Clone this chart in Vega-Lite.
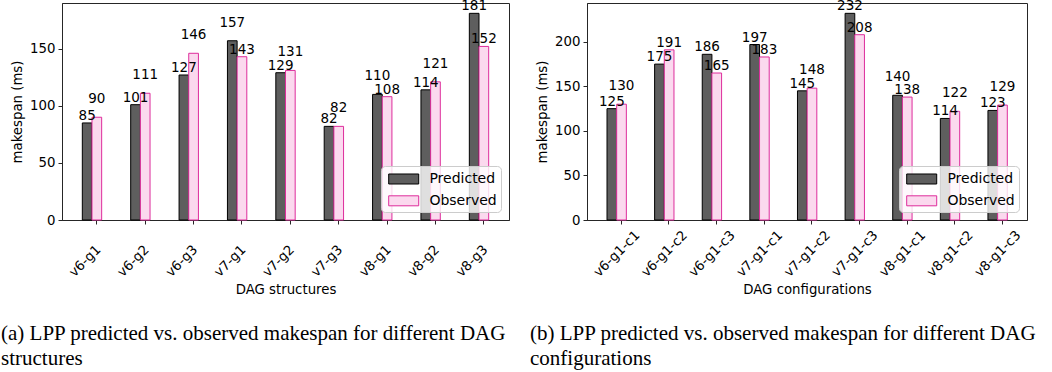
{
  "$schema": "https://vega.github.io/schema/vega-lite/v6.json",
  "padding": {"left": 0, "top": -2, "right": 0, "bottom": 0},
  "bounds": "flush",
  "spacing": 78,
  "datasets": {
    "a": [
      {"cat": "v6-g1", "series": "Predicted", "value": 85}, {"cat": "v6-g1", "series": "Observed", "value": 90},
      {"cat": "v6-g2", "series": "Predicted", "value": 101}, {"cat": "v6-g2", "series": "Observed", "value": 111},
      {"cat": "v6-g3", "series": "Predicted", "value": 127}, {"cat": "v6-g3", "series": "Observed", "value": 146},
      {"cat": "v7-g1", "series": "Predicted", "value": 157}, {"cat": "v7-g1", "series": "Observed", "value": 143},
      {"cat": "v7-g2", "series": "Predicted", "value": 129}, {"cat": "v7-g2", "series": "Observed", "value": 131},
      {"cat": "v7-g3", "series": "Predicted", "value": 82}, {"cat": "v7-g3", "series": "Observed", "value": 82},
      {"cat": "v8-g1", "series": "Predicted", "value": 110}, {"cat": "v8-g1", "series": "Observed", "value": 108},
      {"cat": "v8-g2", "series": "Predicted", "value": 114}, {"cat": "v8-g2", "series": "Observed", "value": 121},
      {"cat": "v8-g3", "series": "Predicted", "value": 181}, {"cat": "v8-g3", "series": "Observed", "value": 152}
    ],
    "b": [
      {"cat": "v6-g1-c1", "series": "Predicted", "value": 125}, {"cat": "v6-g1-c1", "series": "Observed", "value": 130},
      {"cat": "v6-g1-c2", "series": "Predicted", "value": 175}, {"cat": "v6-g1-c2", "series": "Observed", "value": 191},
      {"cat": "v6-g1-c3", "series": "Predicted", "value": 186}, {"cat": "v6-g1-c3", "series": "Observed", "value": 165},
      {"cat": "v7-g1-c1", "series": "Predicted", "value": 197}, {"cat": "v7-g1-c1", "series": "Observed", "value": 183},
      {"cat": "v7-g1-c2", "series": "Predicted", "value": 145}, {"cat": "v7-g1-c2", "series": "Observed", "value": 148},
      {"cat": "v7-g1-c3", "series": "Predicted", "value": 232}, {"cat": "v7-g1-c3", "series": "Observed", "value": 208},
      {"cat": "v8-g1-c1", "series": "Predicted", "value": 140}, {"cat": "v8-g1-c1", "series": "Observed", "value": 138},
      {"cat": "v8-g1-c2", "series": "Predicted", "value": 114}, {"cat": "v8-g1-c2", "series": "Observed", "value": 122},
      {"cat": "v8-g1-c3", "series": "Predicted", "value": 123}, {"cat": "v8-g1-c3", "series": "Observed", "value": 129}
    ]
  },
  "config": {
    "font": "DejaVu Sans",
    "view": {"stroke": "#262626", "strokeWidth": 1},
    "axis": {
      "labelFont": "DejaVu Sans", "labelFontSize": 13.3, "labelColor": "#000",
      "titleFont": "DejaVu Sans", "titleFontSize": 13.3, "titleFontWeight": "normal", "titleColor": "#000",
      "domainColor": "#262626", "tickColor": "#262626", "tickSize": 4, "grid": false
    },
    "legend": {
      "orient": "bottom-right", "offset": 8, "padding": 4,
      "fillColor": "rgba(255,255,255,0.8)", "strokeColor": "#cccccc", "cornerRadius": 4,
      "symbolType": "M-1.807,-0.602H1.807V0.602H-1.807Z", "symbolSize": 276, "symbolStrokeWidth": 1,
      "labelFont": "DejaVu Sans", "labelFontSize": 14, "labelColor": "#000",
      "labelOffset": 16.7, "rowPadding": 4.8, "symbolOffset": 9.7
    }
  },
  "resolve": {
    "scale": {"x": "independent", "y": "independent", "fill": "independent", "stroke": "independent"},
    "legend": {"fill": "independent", "stroke": "independent"}
  },
  "hconcat": [
    {
      "width": 447, "height": 217,
      "data": {"name": "a"},
      "title": {
        "text": ["(a) LPP predicted vs. observed makespan for different DAG", "structures"],
        "orient": "bottom", "anchor": "start", "frame": "group", "dx": -61, "offset": 27,
        "font": "Liberation Serif", "fontSize": 21, "fontWeight": "normal", "color": "#000", "lineHeight": 25
      },
      "encoding": {
        "x": {
          "field": "cat", "type": "nominal", "sort": null,
          "scale": {"domain": ["v6-g1", "v6-g2", "v6-g3", "v7-g1", "v7-g2", "v7-g3", "v8-g1", "v8-g2", "v8-g3"], "paddingInner": 0.6, "paddingOuter": 0.42},
          "axis": {"title": "DAG structures", "labelAngle": -45, "labelAlign": "left", "labelBaseline": "alphabetic", "labelOffset": -17.5, "labelPadding": 53, "bandPosition": 0.75, "titlePadding": 4, "labelOverlap": false}
        },
        "xOffset": {"field": "series", "type": "nominal", "scale": {"domain": ["Predicted", "Observed"]}},
        "y": {
          "field": "value", "type": "quantitative",
          "scale": {"domain": [0, 190.05], "nice": false},
          "axis": {"title": "makespan (ms)", "values": [0, 50, 100, 150], "labelPadding": 3, "titlePadding": 5}
        }
      },
      "layer": [
        {
          "mark": {"type": "bar", "strokeWidth": 1},
          "encoding": {
            "fill": {"field": "series", "type": "nominal", "scale": {"domain": ["Predicted", "Observed"], "range": ["#5e5e5e", "#fbd9ee"]}, "legend": {"title": null}},
            "stroke": {"field": "series", "type": "nominal", "scale": {"domain": ["Predicted", "Observed"], "range": ["#000000", "#de2d9c"]}, "legend": {"title": null}}
          }
        },
        {
          "transform": [
            {"joinaggregate": [{"op": "max", "field": "value", "as": "mx"}, {"op": "min", "field": "value", "as": "mn"}], "groupby": ["cat"]},
            {"filter": "!(datum.mx - datum.mn < 20 && datum.value == datum.mx && (datum.mx != datum.mn || datum.series == 'Observed'))"}
          ],
          "mark": {"type": "text", "baseline": "alphabetic", "dy": -3, "fontSize": 13.5, "color": "#000"},
          "encoding": {"text": {"field": "value", "type": "quantitative"}}
        },
        {
          "transform": [
            {"joinaggregate": [{"op": "max", "field": "value", "as": "mx"}, {"op": "min", "field": "value", "as": "mn"}], "groupby": ["cat"]},
            {"filter": "datum.mx - datum.mn < 20 && datum.value == datum.mx && (datum.mx != datum.mn || datum.series == 'Observed')"}
          ],
          "mark": {"type": "text", "baseline": "alphabetic", "dy": -14, "fontSize": 13.5, "color": "#000"},
          "encoding": {"text": {"field": "value", "type": "quantitative"}}
        }
      ]
    },
    {
      "width": 440, "height": 217,
      "data": {"name": "b"},
      "title": {
        "text": ["(b) LPP predicted vs. observed makespan for different DAG", "configurations"],
        "orient": "bottom", "anchor": "start", "frame": "group", "dx": -57, "offset": 27,
        "font": "Liberation Serif", "fontSize": 21, "fontWeight": "normal", "color": "#000", "lineHeight": 25
      },
      "encoding": {
        "x": {
          "field": "cat", "type": "nominal", "sort": null,
          "scale": {"domain": ["v6-g1-c1", "v6-g1-c2", "v6-g1-c3", "v7-g1-c1", "v7-g1-c2", "v7-g1-c3", "v8-g1-c1", "v8-g1-c2", "v8-g1-c3"], "paddingInner": 0.6, "paddingOuter": 0.42},
          "axis": {"title": "DAG configurations", "labelAngle": -45, "labelAlign": "left", "labelBaseline": "alphabetic", "labelOffset": -17.5, "labelPadding": 53, "bandPosition": 0.75, "titlePadding": 4, "labelOverlap": false}
        },
        "xOffset": {"field": "series", "type": "nominal", "scale": {"domain": ["Predicted", "Observed"]}},
        "y": {
          "field": "value", "type": "quantitative",
          "scale": {"domain": [0, 243.6], "nice": false},
          "axis": {"title": "makespan (ms)", "values": [0, 50, 100, 150, 200], "labelPadding": 3, "titlePadding": 5}
        }
      },
      "layer": [
        {
          "mark": {"type": "bar", "strokeWidth": 1},
          "encoding": {
            "fill": {"field": "series", "type": "nominal", "scale": {"domain": ["Predicted", "Observed"], "range": ["#5e5e5e", "#fbd9ee"]}, "legend": {"title": null}},
            "stroke": {"field": "series", "type": "nominal", "scale": {"domain": ["Predicted", "Observed"], "range": ["#000000", "#de2d9c"]}, "legend": {"title": null}}
          }
        },
        {
          "transform": [
            {"joinaggregate": [{"op": "max", "field": "value", "as": "mx"}, {"op": "min", "field": "value", "as": "mn"}], "groupby": ["cat"]},
            {"filter": "!(datum.mx - datum.mn < 10 && datum.value == datum.mx && (datum.mx != datum.mn || datum.series == 'Observed'))"}
          ],
          "mark": {"type": "text", "baseline": "alphabetic", "dy": -3, "fontSize": 13.5, "color": "#000"},
          "encoding": {"text": {"field": "value", "type": "quantitative"}}
        },
        {
          "transform": [
            {"joinaggregate": [{"op": "max", "field": "value", "as": "mx"}, {"op": "min", "field": "value", "as": "mn"}], "groupby": ["cat"]},
            {"filter": "datum.mx - datum.mn < 10 && datum.value == datum.mx && (datum.mx != datum.mn || datum.series == 'Observed')"}
          ],
          "mark": {"type": "text", "baseline": "alphabetic", "dy": -14, "fontSize": 13.5, "color": "#000"},
          "encoding": {"text": {"field": "value", "type": "quantitative"}}
        }
      ]
    }
  ]
}
